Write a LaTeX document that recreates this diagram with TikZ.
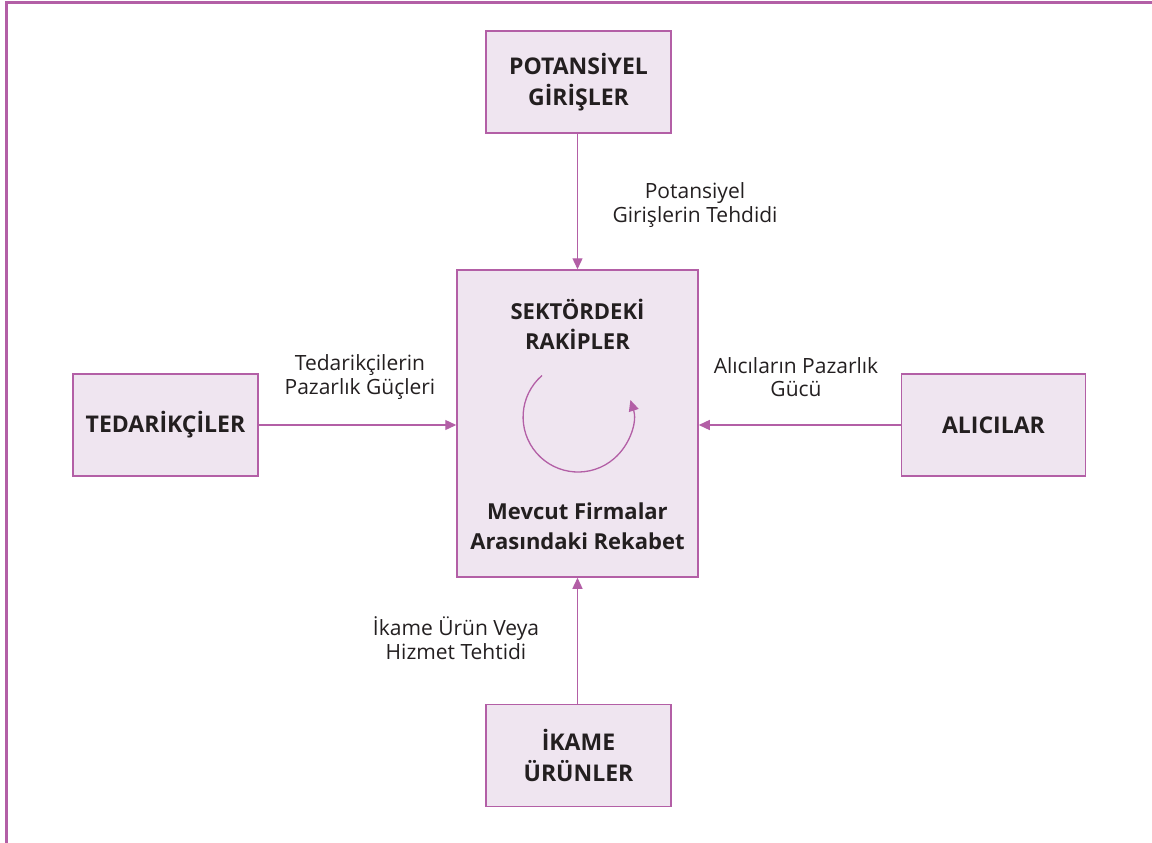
\documentclass[tikz,border=0pt]{standalone}
\usepackage{fontspec}
\setmainfont{Open Sans}
\usetikzlibrary{arrows.meta}
\definecolor{frame}{HTML}{B35FA6}
\definecolor{boxfill}{HTML}{EFE5F0}
\definecolor{ink}{HTML}{231F20}
\tikzset{
  force/.style={draw=frame, fill=boxfill, line width=1.5pt, minimum width=185pt,
    minimum height=102pt, align=center, text=ink,
    font=\fontsize{23}{31}\selectfont\bfseries, inner sep=0pt},
  inbox/.style={align=center, text=ink, font=\fontsize{22}{30}\selectfont\bfseries},
  flow/.style={draw=frame, line width=1.3pt, -{Triangle[length=11pt,width=10pt]}},
  tag/.style={align=center, text=ink, font=\fontsize{21}{23.5}\selectfont, inner sep=0pt}
}
\begin{document}
\begin{tikzpicture}[x=1pt,y=-1pt]
\useasboundingbox (0,0) rectangle (1152,843);
% page frame
\draw[frame, line width=2.2pt] (6.5,843) -- (6.5,2.5) -- (1152,2.5);

% the five forces
\node[force, minimum width=241pt, minimum height=307pt] (rivals) at (577.5,423.5) {};
\node[force] (entrants) at (578.5,82) {POTANSİYEL\\GİRİŞLER};
\node[force] (suppliers) at (165.5,425) {TEDARİKÇİLER};
\node[force, minimum width=184pt] (buyers) at (993.5,425) {ALICILAR};
\node[force] (substitutes) at (578.5,755.5) {İKAME\\ÜRÜNLER};

% texts inside the central box
\node[inbox] (rivtitle) at (577.5,324) {SEKTÖRDEKİ\\RAKİPLER};
\node[inbox] (rivtext) at (577.5,526) {Mevcut Firmalar\\Arasındaki Rekabet};

% rivalry cycle
\draw[draw=frame, line width=1.3pt, -{Triangle[length=11pt,width=10pt]}]
  (542,375.5) arc[start angle=-131, end angle=-378, radius=55];

% connectors
\draw[flow] (entrants.south -| rivals.north) -- (rivals.north);
\draw[flow] (suppliers.east) -- (suppliers.east -| rivals.west);
\draw[flow] (buyers.west) -- (buyers.west -| rivals.east);
\draw[flow] (substitutes.north -| rivals.south) -- (rivals.south);

% connector labels
\node[tag] (l1) at (695,205) {Potansiyel\\Girişlerin Tehdidi};
\node[tag] (l2) at (360,377) {Tedarikçilerin\\Pazarlık Güçleri};
\node[tag] (l3) at (796,377) {Alıcıların Pazarlık\\Gücü};
\node[tag] (l4) at (456,638) {İkame Ürün Veya\\Hizmet Tehtidi};
\end{tikzpicture}
\end{document}
